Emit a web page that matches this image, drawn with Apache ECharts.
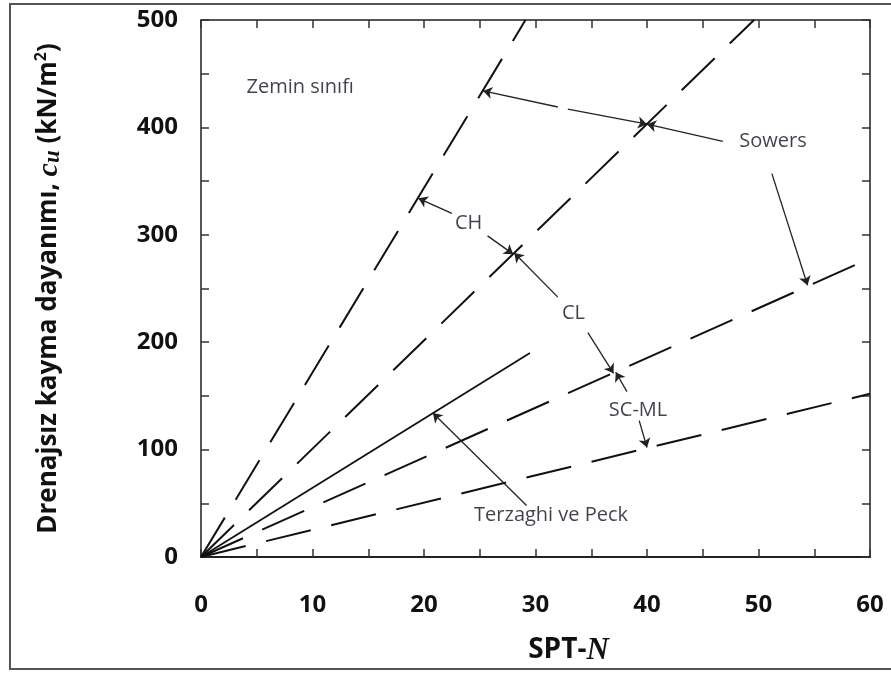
<!DOCTYPE html>
<html>
<head>
<meta charset="utf-8">
<script src="https://cdn.jsdelivr.net/npm/echarts@6/dist/echarts.min.js"></script>
<style>
  html, body { margin: 0; padding: 0; background: #fff; }
  #chart { width: 891px; height: 673px; }
</style>
</head>
<body>
<div id="chart"></div>
<script>
// Axis ranges and ticks (SPT-N vs undrained shear strength cu, kN/m2)
const xRange = [0, 60];
const yRange = [0, 500];
const xStep = 10;
const yStep = 100;

// Sowers soil-class boundary lines (dashed), from the origin
const chLine = [[0, 0], [29.1, 500]];
const clLine = [[0, 0], [49.6, 500]];
const scmlLine = [[0, 0], [60, 278]];
const lowLine = [[0, 0], [60, 152]];

// Terzaghi & Peck correlation (solid)
const terzaghiLine = [[0, 0], [29.5, 190]];

// Text labels placed in data units [N, cu]
const labelNames = ['Zemin sınıfı', 'CH', 'CL', 'SC-ML', 'Sowers', 'Terzaghi ve Peck'];
const labelPos = [[8.9, 437], [24.0, 311], [33.4, 227], [39.2, 137], [51.3, 387], [31.4, 39]];

// Leader arrows [start, end]; the arrowhead sits at the end point
const arrows = [
  [[22.5, 320], [19.5, 334]],
  [[25.7, 299], [28.0, 282]],
  [[32.0, 242], [28.1, 283]],
  [[34.7, 209], [37.0, 171]],
  [[38.2, 154], [37.2, 172]],
  [[39.3, 127], [40.0, 102]],
  [[29.2, 48], [20.8, 134]],
  [[46.8, 387], [40.0, 403]],
  [[32.9, 417], [40.0, 403]],
  [[32.0, 419], [25.3, 434]],
  [[51.2, 357], [54.4, 253]]
];

const ink = '#111';
const frame = '#555';
const tickFont = { fontFamily: 'Open Sans', fontWeight: 'bold', fontSize: 24, color: ink };
const dash = [46, 21];

function xAxisCfg(pos, showLabels) {
  return {
    type: 'value', position: pos, min: xRange[0], max: xRange[1], interval: xStep,
    axisLine: { show: true, onZero: false, lineStyle: { color: pos === 'bottom' ? '#222' : frame, width: 2 } },
    axisTick: { show: true, inside: true, length: 8, lineStyle: { color: '#333', width: 1.5 } },
    minorTick: { show: true, splitNumber: 2, length: 8, lineStyle: { color: '#333', width: 1.5 } },
    splitLine: { show: false },
    axisLabel: Object.assign({ show: showLabels, margin: 36 }, tickFont)
  };
}
function yAxisCfg(pos, showLabels) {
  return {
    type: 'value', position: pos, min: yRange[0], max: yRange[1], interval: yStep,
    axisLine: { show: true, onZero: false, lineStyle: { color: frame, width: 2 } },
    axisTick: { show: true, inside: true, length: 8, lineStyle: { color: '#333', width: 1.5 } },
    minorTick: { show: true, splitNumber: 2, length: 8, lineStyle: { color: '#333', width: 1.5 } },
    splitLine: { show: false },
    axisLabel: Object.assign({ show: showLabels, margin: 23 }, tickFont)
  };
}

const xBottom = xAxisCfg('bottom', true);
xBottom.name = '{b|SPT-}{i|N}';
xBottom.nameLocation = 'middle';
xBottom.nameGap = 78;
xBottom.nameTextStyle = {
  padding: [0, 0, 0, 66],
  rich: {
    b: { fontFamily: 'Open Sans', fontWeight: 'bold', fontSize: 28, color: ink },
    i: { fontFamily: 'Liberation Serif', fontStyle: 'italic', fontWeight: 'bold', fontSize: 31, color: ink }
  }
};

const yLeft = yAxisCfg('left', true);
yLeft.name = '{b|Drenajsız kayma dayanımı, }{i|c}{s|u}{b| (kN/m}{sup|2}{b|)}';
yLeft.nameLocation = 'middle';
yLeft.nameGap = 136;
yLeft.nameRotate = 90;
yLeft.nameTextStyle = {
  rich: {
    b: { fontFamily: 'Open Sans', fontWeight: 'bold', fontSize: 26, color: ink, lineHeight: 32, verticalAlign: 'middle' },
    i: { fontFamily: 'Liberation Serif', fontStyle: 'italic', fontWeight: 'bold', fontSize: 30, color: ink, lineHeight: 32, verticalAlign: 'middle' },
    s: { fontFamily: 'Liberation Serif', fontStyle: 'italic', fontWeight: 'bold', fontSize: 23, color: ink, lineHeight: 32, verticalAlign: 'bottom' },
    sup: { fontFamily: 'Open Sans', fontWeight: 'bold', fontSize: 16, color: ink, lineHeight: 32, verticalAlign: 'top' }
  }
};

function dashedSeries(data) {
  return {
    type: 'line', data: data, showSymbol: false, silent: true,
    xAxisIndex: 0, yAxisIndex: 0,
    lineStyle: { color: '#111', width: 2, type: dash }
  };
}

const chart = echarts.init(document.getElementById('chart'), null, { renderer: 'canvas' });
chart.setOption({
  animation: false,
  backgroundColor: '#fff',
  grid: { left: 201, right: 21, top: 20, bottom: 116, containLabel: false },
  xAxis: [xBottom, xAxisCfg('top', false)],
  yAxis: [yLeft, yAxisCfg('right', false)],
  graphic: [{
    type: 'rect', silent: true, z: -10,
    shape: { x: 10, y: 4, width: 900, height: 665 },
    style: { fill: 'none', stroke: frame, lineWidth: 2 }
  }],
  series: [
    dashedSeries(chLine),
    dashedSeries(clLine),
    dashedSeries(scmlLine),
    dashedSeries(lowLine),
    {
      type: 'line', data: terzaghiLine, showSymbol: false, silent: true,
      lineStyle: { color: '#111', width: 1.8, type: 'solid' }
    },
    {
      type: 'lines', coordinateSystem: 'cartesian2d', silent: true,
      symbol: ['none', 'arrow'], symbolSize: 9,
      lineStyle: { color: '#222', width: 1.3, opacity: 1, curveness: 0 },
      data: arrows.map(a => ({ coords: a }))
    },
    {
      type: 'scatter', symbolSize: 0, silent: true,
      data: labelNames.map((n, i) => ({ name: n, value: labelPos[i] })),
      label: {
        show: true, position: 'inside', formatter: '{b}',
        fontFamily: 'Open Sans', fontSize: 20, color: '#111122'
      }
    }
  ]
});
</script>
</body>
</html>
